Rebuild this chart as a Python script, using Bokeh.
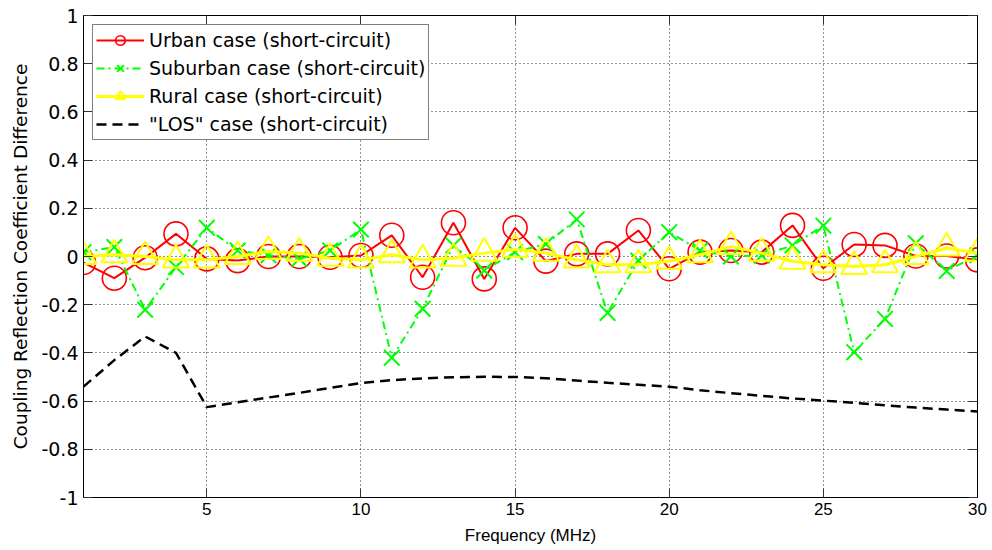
from bokeh.plotting import figure
from bokeh.models import (LinearAxis, FixedTicker, Legend, LegendItem, Range1d,
                          CustomLabelingPolicy)
from bokeh.embed import file_html
from bokeh.resources import INLINE

freq = list(range(1, 31))
urban = [-0.025, -0.09, -0.005, 0.094, -0.01, -0.017, 0.0, 0.0, -0.003, 0.004,
         0.088, -0.086, 0.14, -0.093, 0.119, -0.019, 0.011, 0.011, 0.108, -0.051,
         0.018, 0.025, 0.018, 0.129, -0.049, 0.05, 0.046, 0.002, 0.002, -0.014]
suburban = [0.018, 0.039, -0.221, -0.044, 0.119, 0.025, 0.005, -0.01, 0.025, 0.112,
            -0.42, -0.217, 0.046, -0.058, 0.018, 0.052, 0.154, -0.234, -0.017, 0.101,
            0.025, 0.0, 0.004, 0.046, 0.128, -0.397, -0.259, 0.055, -0.06, 0.005]
rural = [0.0, 0.007, 0.0, -0.014, -0.014, 0.0, 0.021, 0.014, -0.007, -0.014,
         0.007, -0.014, -0.007, 0.014, 0.03, 0.014, -0.014, -0.034, -0.034, -0.02,
         0.007, 0.041, 0.014, -0.02, -0.034, -0.041, -0.034, 0.0, 0.035, 0.014]
los = [-0.54, -0.43, -0.332, -0.40, -0.625, -0.605, -0.585, -0.566, -0.545, -0.525,
       -0.513, -0.506, -0.501, -0.499, -0.500, -0.505, -0.515, -0.524, -0.532, -0.54,
       -0.555, -0.567, -0.578, -0.589, -0.598, -0.607, -0.617, -0.627, -0.635, -0.643]

labels = ["Urban case (short-circuit)", "Suburban case (short-circuit)",
          "Rural case (short-circuit)", "\"LOS\" case (short-circuit)"]
xticks = [5, 10, 15, 20, 25, 30]
yticks = [-1, -0.8, -0.6, -0.4, -0.2, 0, 0.2, 0.4, 0.6, 0.8, 1]
ytick_labels = {-1: "-1", -0.8: "-0.8", -0.6: "-0.6", -0.4: "-0.4", -0.2: "-0.2", 0: "0",
                0.2: "0.2", 0.4: "0.4", 0.6: "0.6", 0.8: "0.8", 1: "1"}

p = figure(width=992, height=550, output_backend="svg", toolbar_location=None,
           x_range=Range1d(1, 30), y_range=Range1d(-1, 1),
           min_border_left=83, min_border_right=15, min_border_top=15, min_border_bottom=53)
p.background_fill_color = "white"
p.border_fill_color = "white"
p.outline_line_color = "black"
p.outline_line_width = 1

# grids
p.xgrid.ticker = FixedTicker(ticks=xticks)
p.ygrid.ticker = FixedTicker(ticks=yticks)
for g in (p.xgrid[0], p.ygrid[0]):
    g.grid_line_color = "#111111"
    g.grid_line_dash = "1 3"
    g.grid_line_width = 1
    g.grid_line_alpha = 0.9

def style_axis(ax):
    ax.major_tick_in = 9
    ax.major_tick_out = 0
    ax.minor_tick_in = 0
    ax.minor_tick_out = 0
    ax.axis_line_color = "black"
    ax.major_tick_line_color = "#333333"
    ax.major_label_text_color = "black"
    ax.axis_label_text_color = "black"
    ax.axis_label_text_font_style = "normal"

xa = p.xaxis[0]
style_axis(xa)
xa.ticker = FixedTicker(ticks=xticks)
xa.major_label_text_font = "Liberation Sans"
xa.major_label_text_font_size = "17px"
xa.major_label_standoff = 5
xa.axis_label = "Frequency (MHz)"
xa.axis_label_text_font = "Liberation Sans"
xa.axis_label_text_font_size = "17px"
xa.axis_label_standoff = 8

ya = p.yaxis[0]
style_axis(ya)
ya.ticker = FixedTicker(ticks=yticks)
ya.major_label_overrides = ytick_labels
ya.major_label_text_font = "DejaVu Sans"
ya.major_label_text_font_size = "19px"
ya.major_label_standoff = 5
ya.axis_label = "Coupling Reflection Coefficient Difference"
ya.axis_label_text_font = "DejaVu Sans"
ya.axis_label_text_font_size = "18.5px"
ya.axis_label_standoff = 7

hide_js = """
try { for (let i = 0; i < bboxes.length; i++) { indices.unset(i) } } catch (e) {}
return indices
"""
top = LinearAxis(ticker=FixedTicker(ticks=xticks), major_label_text_font_size="1px",
                 major_label_standoff=0, major_label_policy=CustomLabelingPolicy(code=hide_js))
style_axis(top)
p.add_layout(top, "above")
right = LinearAxis(ticker=FixedTicker(ticks=yticks), major_label_text_font_size="1px",
                   major_label_standoff=0, major_label_policy=CustomLabelingPolicy(code=hide_js))
style_axis(right)
p.add_layout(right, "right")

# series
l1 = p.line(freq, urban, line_color="#FF0000", line_width=2)
s1 = p.scatter(freq, urban, marker="circle", size=24, fill_color=None,
               line_color="#FF0000", line_width=1.6)
l2 = p.line(freq, suburban, line_color="#00FF00", line_width=2, line_dash="8 4 2 4")
s2 = p.scatter(freq, suburban, marker="x", size=22, line_color="#00FF00", line_width=2)
l3 = p.line(freq, rural, line_color="#FFFF00", line_width=3)
s3 = p.scatter(freq, rural, marker="triangle", size=26, fill_color=None,
               line_color="#FFFF00", line_width=2)
l4 = p.line(freq, los, line_color="black", line_width=2.5, line_dash="10 6")

legend = Legend(items=[
    LegendItem(label=labels[0], renderers=[l1, s1]),
    LegendItem(label=labels[1], renderers=[l2, s2]),
    LegendItem(label=labels[2], renderers=[l3, s3]),
    LegendItem(label=labels[3], renderers=[l4]),
], location="top_left", margin=9, padding=3, spacing=4,
    glyph_width=48, glyph_height=24, label_height=24, label_width=270,
    label_standoff=5, label_text_font="DejaVu Sans", label_text_font_size="19px",
    label_text_color="black", border_line_color="black", border_line_width=1,
    background_fill_color="white", background_fill_alpha=1)
p.add_layout(legend)

open("out.html", "w").write(file_html(p, INLINE))
